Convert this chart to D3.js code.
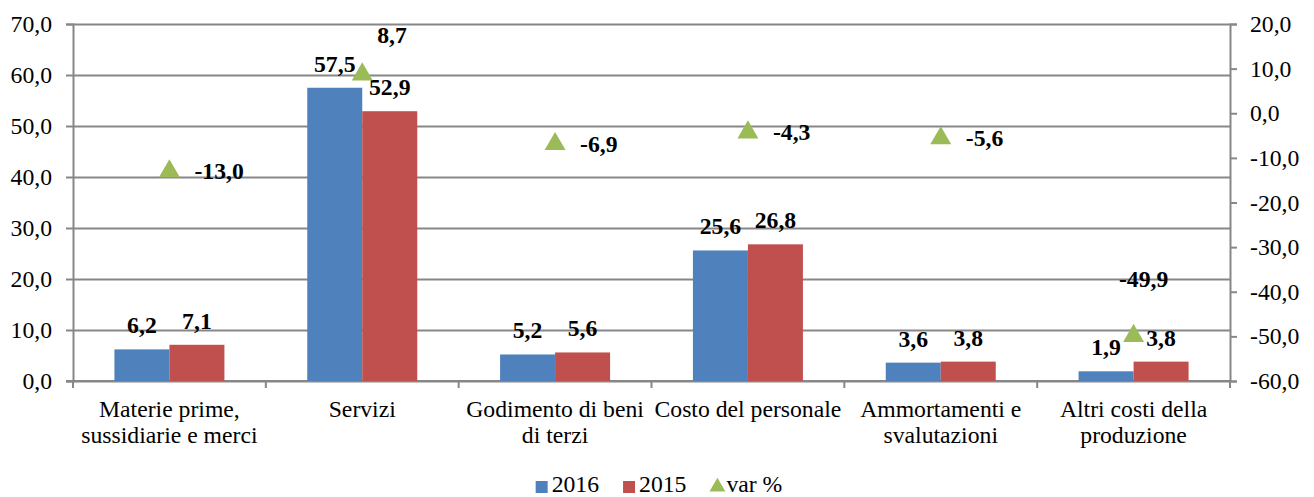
<!DOCTYPE html>
<html>
<head>
<meta charset="utf-8">
<script src="https://cdn.jsdelivr.net/npm/d3@7"></script>
<style>
  body { margin: 0; background: #fff; }
  text { font-family: "Liberation Serif", "Times New Roman", serif; fill: #000; }
</style>
</head>
<body>
<script>
var categories = ["Materie prime, sussidiarie e merci", "Servizi", "Godimento di beni di terzi",
    "Costo del personale", "Ammortamenti e svalutazioni", "Altri costi della produzione"];
var series = ["2016", "2015"];
var values2016 = [6.2, 57.5, 5.2, 25.6, 3.6, 1.9];
var values2015 = [7.1, 52.9, 5.6, 26.8, 3.8, 3.8];
var varPct = [-13.0, 8.7, -6.9, -4.3, -5.6, -49.9];
var leftTicks = [0, 10, 20, 30, 40, 50, 60, 70];
var rightTicks = [-60, -50, -40, -30, -20, -10, 0, 10, 20];

var width = 1314, height = 497;
var plotLeft = 73, plotRight = 1230, plotTop = 24, plotBottom = 381;
var fontSize = "23.7px";
var colors = {"2016": "#4f81bd", "2015": "#c0504d", "var": "#9bbb59"};
var fmt = function (d) { return d.toFixed(1).replace(".", ","); };

var svg = d3.select("body").append("svg")
    .attr("width", width)
    .attr("height", height);

var x = d3.scaleBand().domain(categories).range([plotLeft, plotRight]);
var xs = d3.scaleBand().domain(series).range([0, 110]);
var yL = d3.scaleLinear().domain([0, 70]).range([plotBottom, plotTop]);
var yR = d3.scaleLinear().domain([-60, 20]).range([plotBottom, plotTop]);

//gridlines
svg.append("g")
    .attr("transform", "translate(" + plotLeft + ",0)")
    .call(d3.axisLeft(yL).tickValues(leftTicks).tickSize(-(plotRight - plotLeft)).tickFormat(""))
    .call(function (g) { g.select(".domain").remove(); })
    .selectAll("line").attr("stroke", "#878787").attr("stroke-width", 2);

//left axis
var gl = svg.append("g")
    .attr("transform", "translate(" + plotLeft + ",0)")
    .call(d3.axisLeft(yL).tickValues(leftTicks).tickSize(7).tickPadding(14).tickFormat(fmt));
gl.selectAll("text").style("font-size", fontSize);

//right axis
var gr = svg.append("g")
    .attr("transform", "translate(" + plotRight + ",0)")
    .call(d3.axisRight(yR).tickValues(rightTicks).tickSize(7).tickPadding(13).tickFormat(fmt));
gr.selectAll("text").style("font-size", fontSize);

svg.selectAll(".domain, .tick line").attr("stroke", "#878787").attr("stroke-width", 2);

//bottom axis
var bounds = categories.map(function (c) { return x(c); }).concat([plotRight]);
svg.append("line")
    .attr("x1", plotLeft - 7).attr("x2", plotRight)
    .attr("y1", plotBottom).attr("y2", plotBottom)
    .attr("stroke", "#878787").attr("stroke-width", 2);
svg.selectAll(".xtick").data(bounds).enter().append("line")
    .attr("x1", function (d) { return d; })
    .attr("x2", function (d) { return d; })
    .attr("y1", plotBottom).attr("y2", plotBottom + 7)
    .attr("stroke", "#878787").attr("stroke-width", 2);

//category labels with wrapping
function wrapLines(textSel, label, maxW) {
    var words = label.split(" "), lines = [], cur = "";
    var probe = textSel.append("tspan");
    words.forEach(function (w) {
        var test = cur ? cur + " " + w : w;
        probe.text(test);
        if (probe.node().getComputedTextLength() > maxW && cur) {
            lines.push(cur);
            cur = w;
        } else {
            cur = test;
        }
    });
    lines.push(cur);
    probe.remove();
    return lines;
}

categories.forEach(function (c) {
    var t = svg.append("text")
        .attr("text-anchor", "middle")
        .style("font-size", fontSize);
    var lines = wrapLines(t, c, x.bandwidth() - 2);
    lines.forEach(function (l, i) {
        t.append("tspan")
            .attr("x", x(c) + x.bandwidth() / 2)
            .attr("y", 417 + i * 26)
            .text(l);
    });
});

//bars
var barData = [];
categories.forEach(function (c, i) {
    barData.push({cat: c, s: "2016", v: values2016[i]});
    barData.push({cat: c, s: "2015", v: values2015[i]});
});
var groupOff = (x.bandwidth() - 110) / 2;

svg.selectAll(".bar").data(barData).enter().append("rect")
    .attr("class", "bar")
    .attr("x", function (d) { return x(d.cat) + groupOff + xs(d.s); })
    .attr("width", xs.bandwidth())
    .attr("y", function (d) { return yL(d.v); })
    .attr("height", function (d) { return plotBottom - yL(d.v); })
    .attr("fill", function (d) { return colors[d.s]; });

svg.selectAll(".barlabel").data(barData).enter().append("text")
    .attr("x", function (d) { return x(d.cat) + groupOff + xs(d.s) + xs.bandwidth() / 2; })
    .attr("y", function (d) { return yL(d.v) - 16; })
    .attr("text-anchor", "middle")
    .style("font-size", fontSize)
    .style("font-weight", "bold")
    .text(function (d) { return fmt(d.v); });

//var % markers
var tri = d3.symbol().type(d3.symbolTriangle).size(190);
var varData = categories.map(function (c, i) { return {cat: c, v: varPct[i]}; });

svg.selectAll(".marker").data(varData).enter().append("path")
    .attr("d", tri)
    .attr("transform", function (d) {
        return "translate(" + (x(d.cat) + x.bandwidth() / 2) + "," + yR(d.v) + ")";
    })
    .attr("fill", colors["var"]);

// label placement (a couple were moved by hand in the original)
var place = {
    "Servizi": [15, -31, "start"],
    "Altri costi della produzione": [10, -49, "middle"]
};
svg.selectAll(".varlabel").data(varData).enter().append("text")
    .attr("x", function (d) {
        var p = place[d.cat] || [25, 8, "start"];
        return x(d.cat) + x.bandwidth() / 2 + p[0];
    })
    .attr("y", function (d) {
        var p = place[d.cat] || [25, 8, "start"];
        return yR(d.v) + p[1];
    })
    .attr("text-anchor", function (d) { return (place[d.cat] || [0, 0, "start"])[2]; })
    .style("font-size", fontSize)
    .style("font-weight", "bold")
    .text(function (d) { return fmt(d.v); });

//legend
var legendItems = [
    {name: "2016", key: "2016", type: "rect"},
    {name: "2015", key: "2015", type: "rect"},
    {name: "var %", key: "var", type: "tri"}
];
var leg = svg.append("g");
var lx = 0;
legendItems.forEach(function (d) {
    var g = leg.append("g").attr("transform", "translate(" + lx + ",0)");
    if (d.type == "rect") {
        g.append("rect").attr("x", 0).attr("y", -11).attr("width", 12).attr("height", 12)
            .attr("fill", colors[d.key]);
    } else {
        g.append("path").attr("d", d3.symbol().type(d3.symbolTriangle).size(110))
            .attr("transform", "translate(7,-5)")
            .attr("fill", colors[d.key]);
    }
    var t = g.append("text").attr("x", 16).attr("y", 0).style("font-size", fontSize).text(d.name);
    lx += 16 + t.node().getComputedTextLength() + 24;
});
lx -= 24;
leg.attr("transform", "translate(" + ((width - lx) / 2 + 2) + ",492)");
</script>
</body>
</html>
